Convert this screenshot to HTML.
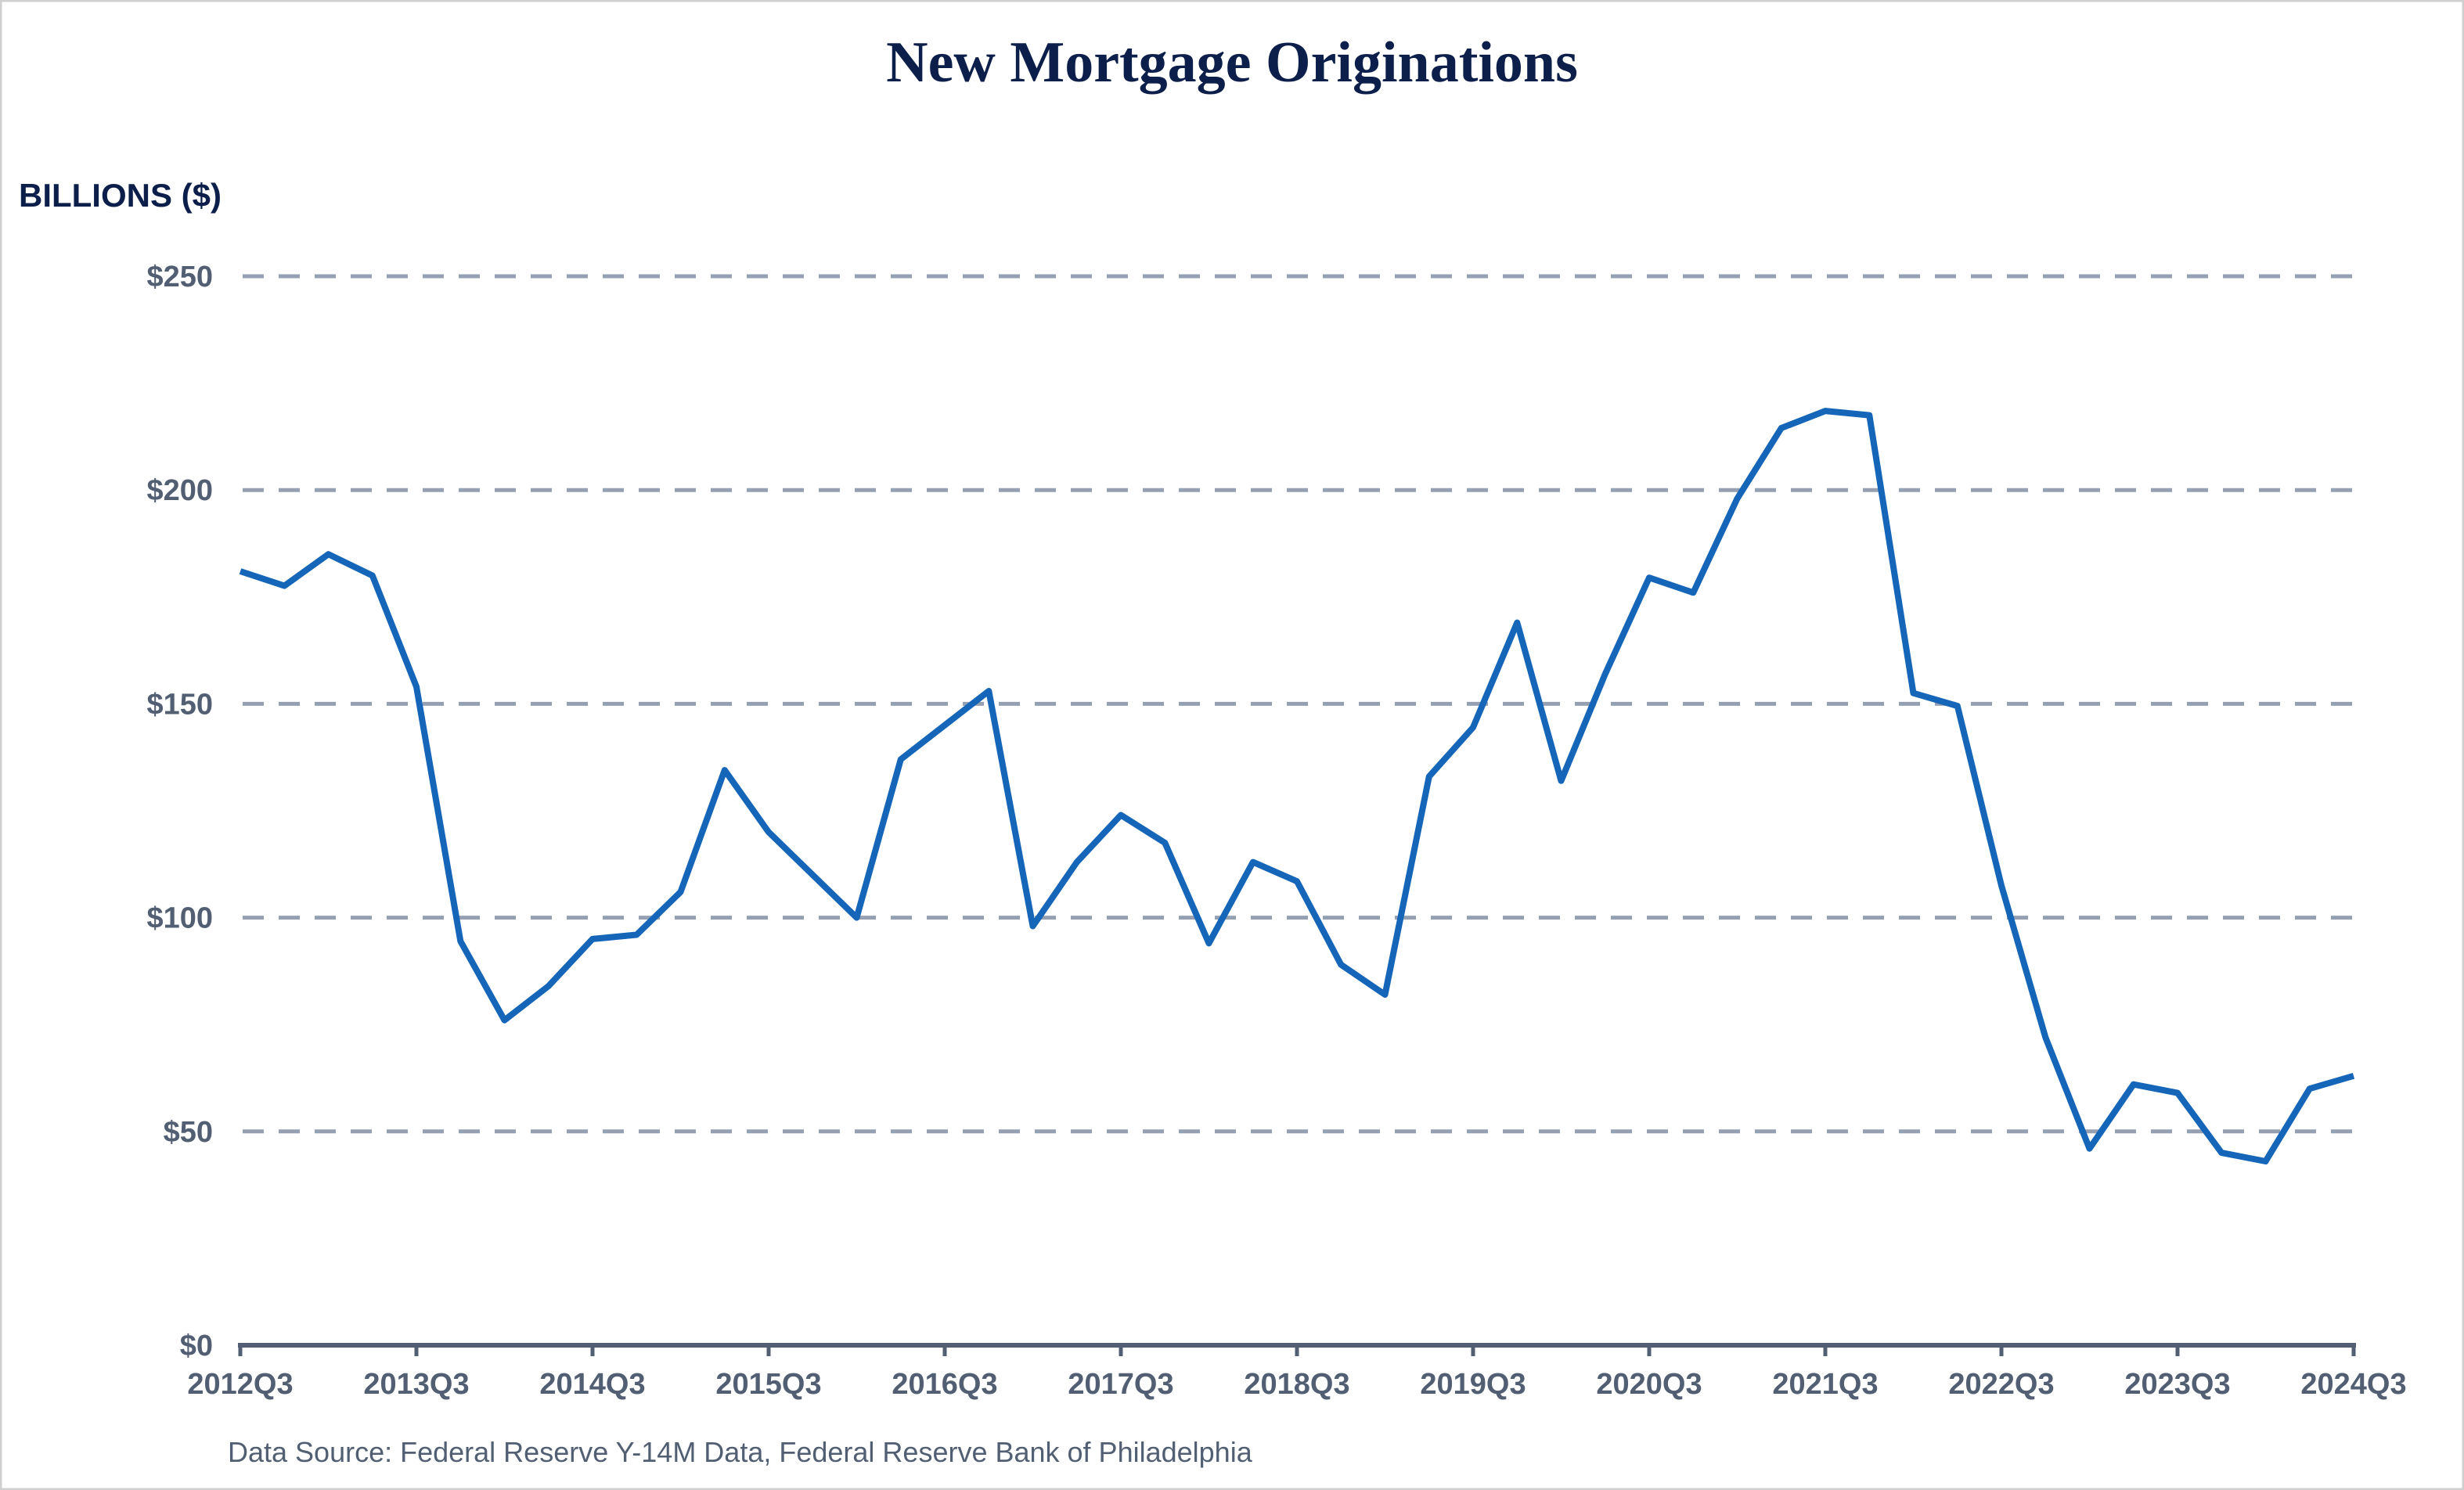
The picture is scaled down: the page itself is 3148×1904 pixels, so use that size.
<!DOCTYPE html>
<html><head><meta charset="utf-8"><style>
html,body{margin:0;padding:0;background:#fff}
svg{display:block}
</style></head><body>
<svg id="chart" width="3148" height="1904" viewBox="0 0 3148 1904" xmlns="http://www.w3.org/2000/svg">
<rect x="1" y="1" width="3146" height="1902" fill="#fff" stroke="#d0d0d0" stroke-width="3"/>
<text x="1574" y="104" text-anchor="middle" font-family="Liberation Serif, serif" font-weight="bold" font-size="74" fill="#0c1f4b">New Mortgage Originations</text>
<text x="24" y="264" font-family="Liberation Sans, sans-serif" font-weight="bold" font-size="42" fill="#0c1f4b">BILLIONS ($)</text>
<g id="grid"></g><g id="axes"></g><g id="series"></g>
<text x="291" y="1868" font-family="Liberation Sans, sans-serif" font-size="36" fill="#525f73">Data Source: Federal Reserve Y-14M Data, Federal Reserve Bank of Philadelphia</text>
</svg>
<script>
const yTicks=[0,50,100,150,200,250];
const yTickLabels=["$0","$50","$100","$150","$200","$250"];
const xTickLabels=["2012Q3","2013Q3","2014Q3","2015Q3","2016Q3","2017Q3","2018Q3","2019Q3","2020Q3","2021Q3","2022Q3","2023Q3","2024Q3"];
const originations=[181,177.6,185,180,154,94.5,76,84,95,96,106,134.5,120,110,100,137,145,153,98,113,124,117.5,94,113,108.5,89,82,133,144.5,169,132,157,179.5,176,198,214.5,218.5,217.5,152.5,149.5,107.5,72,46,61,59,45,43,60,63];
const NS="http://www.w3.org/2000/svg";
const X0=307,X1=3007,Y0=1719,Y1=353;
const nQ=originations.length-1;
function xs(i){return X0+(X1-X0)*i/nQ;}
function ys(v){return Y0-(Y0-Y1)*v/250;}
function mk(tag,attrs,parent){const e=document.createElementNS(NS,tag);for(const k in attrs)e.setAttribute(k,attrs[k]);parent.appendChild(e);return e;}
const grid=document.getElementById('grid'),axes=document.getElementById('axes'),series=document.getElementById('series');
yTicks.forEach((v,i)=>{
  if(v>0){const l=mk('line',{x1:X0+3,x2:X1,y1:ys(v),y2:ys(v),stroke:'#95a0b3','stroke-width':5,'stroke-dasharray':'27 19'},grid);
  
  }
  const t=mk('text',{x:272,y:ys(v)+13,'text-anchor':'end','font-family':'Liberation Sans, sans-serif','font-weight':'bold','font-size':38,fill:'#525f73'},axes);
  t.textContent=yTickLabels[i];
  
  
});
const ax=mk('line',{x1:X0-3,x2:X1+3,y1:Y0,y2:Y0,stroke:'#525f73','stroke-width':6},axes);


xTickLabels.forEach((lab,i)=>{
  const x=xs(i*4);
  const tk=mk('line',{x1:x,x2:x,y1:Y0,y2:Y0+14,stroke:'#525f73','stroke-width':5},axes);
  
  
  const t=mk('text',{x:x,y:Y0+62,'text-anchor':'middle','font-family':'Liberation Sans, sans-serif','font-weight':'bold','font-size':38,fill:'#525f73'},axes);
  t.textContent=lab;
  
  
});
const d=originations.map((v,i)=>(i?'L':'M')+xs(i).toFixed(1)+' '+ys(v).toFixed(1)).join(' ');
const p=mk('path',{d:d,fill:'none',stroke:'#1565b8','stroke-width':8,'stroke-linejoin':'round'},series);


</script>
</body></html>
